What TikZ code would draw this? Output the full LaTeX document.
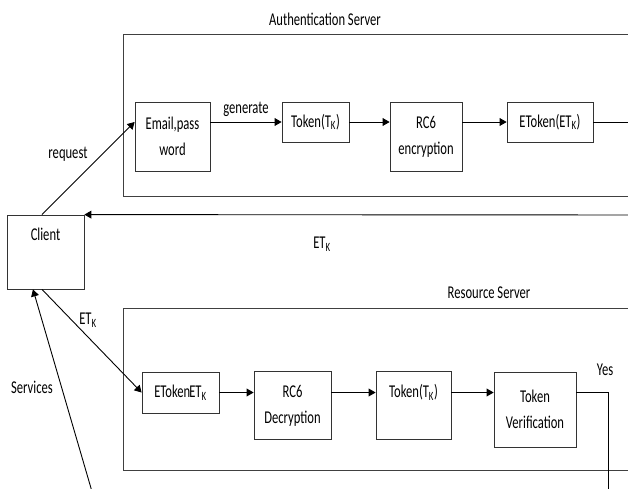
\documentclass[tikz,border=0pt]{standalone}
\usepackage{fontspec}
\setmainfont{Carlito}[FakeStretch=0.7]
\usetikzlibrary{arrows}
\tikzset{
  frame/.style={draw=black!75, line width=1pt},
  block/.style={draw=black!80, line width=0.8pt, fill=white, align=center, inner sep=2pt},
  flow/.style={->, line width=0.9pt},
}
\begin{document}
\begin{tikzpicture}[x=1pt, y=-1pt, >=triangle 60, font=\fontsize{18}{26}\selectfont]
\useasboundingbox (0,0) rectangle (628,488);
\clip (0,0) rectangle (628,488);
\coordinate (etokout) at (660,122);
\coordinate (asout) at (660,215);
\coordinate (vout) at (608,500);
\coordinate (svc) at (93,495);

\begin {scope}
  \draw [frame] (123,34) rectangle (660,196);
  \node (astitle) at (325,19) {Authentication Server};
  \node [block, minimum width=75, minimum height=69] (email) at (172.5,136.5) {Email,pass\\word};
  \node [block, minimum width=67, minimum height=40] (tok) at (315.5,122) {Token(T\textsubscript{K})};
  \node [block, minimum width=72, minimum height=69] (rc6) at (426,136.5) {RC6\\encryption};
  \node [block, minimum width=86, minimum height=40] (etok) at (550,122) {EToken(ET\textsubscript{K})};
  \draw [flow] (email.east |- tok) -- (tok.west) node [midway, anchor=south, yshift=2pt] (gen) {generate};
  \draw [flow] (tok.east) -- (tok.east -| rc6.west);
  \draw [flow] (rc6.east |- etok) -- (etok.west);
  \draw [line width=0.9pt] (etok.east) -- (etokout);
\end {scope}

\node [block, minimum width=77, minimum height=74, label={[anchor=north, yshift=-10pt]north:Client}] (client) at (45.5,252) {};
\draw [flow] (asout) -- (client.north east);
\node (etret) at (322,244) {ET\textsubscript{K}};
\draw [flow] ([xshift=-3.5pt]client.north) -- (email.west |- tok);
\node (req) at (68,154) {request};

\begin {scope}
  \draw [frame] (123,308) rectangle (660,470);
  \node (rstitle) at (489,293) {Resource Server};
  \node [block, minimum width=77, minimum height=41] (etk) at (180.5,392.5) {EToken\kern-1pt ET\textsubscript{K}};
  \node [block, minimum width=77, minimum height=68] (rc6d) at (292.5,405.5) {RC6\\Decryption};
  \node [block, minimum width=75, minimum height=68, label={[anchor=north, yshift=-10pt]north:Token(T\textsubscript{K})}] (tok2) at (413.5,405.5) {};
  \node [block, minimum width=82, minimum height=75] (tver) at (535,409.5) {Token\\Verification};
  \draw [flow] (etk.east) -- (etk.east -| rc6d.west);
  \draw [flow] (rc6d.east |- etk) -- (tok2.west |- etk);
  \draw [flow] (tok2.east |- etk) -- (tver.west |- etk);
  \draw [line width=0.9pt] (tver.east |- etk) -| (vout);
  \node (yes) at (605,370) {Yes};
\end {scope}

\draw [flow] ([xshift=-3.5pt]client.south) -- (etk.west);
\node (etsent) at (88,320) {ET\textsubscript{K}};
\draw [flow] (svc) -- ([xshift=-12.5pt]client.south);
\node (serv) at (32,387) {Services};
\end{tikzpicture}
\end{document}
